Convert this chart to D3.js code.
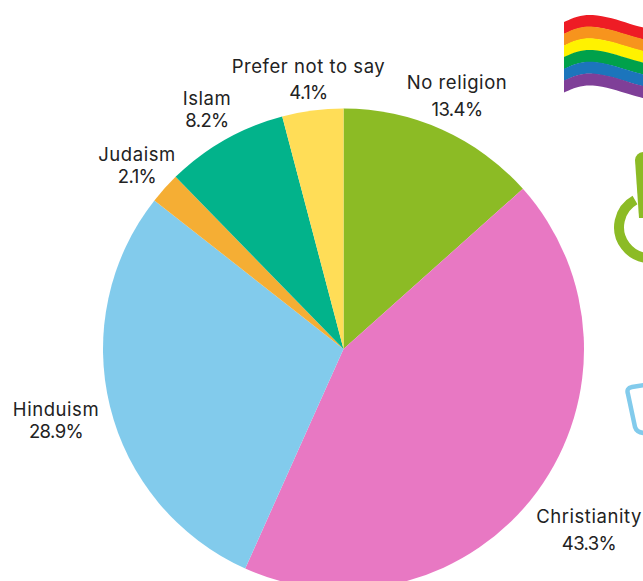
<!DOCTYPE html>
<html><head><meta charset="utf-8">
<script src="https://cdn.jsdelivr.net/npm/d3@7/dist/d3.min.js"></script>
<style>html,body{margin:0;padding:0;background:#fff;overflow:hidden}svg{display:block}</style>
</head><body><svg id="c" width="643" height="581"></svg>
<script>
const categories = ["No religion","Christianity","Hinduism","Judaism","Islam","Prefer not to say"];
const values = [13.4,43.3,28.9,2.1,8.2,4.1];
const colors = ["#8CBB25","#E878C3","#82CBEC","#F5AE34","#02B38B","#FFDD57"];
const labelCentres = [[457,89,116],[589,523,550],[56,416,438],[137,161,183],[207,105,127],[308.5,73,99]];
const flagColors = ["#EE1C25","#F7941D","#FFF200","#00A14B","#1C75BC","#7F3F98"];

const svg = d3.select("#c");
const cx = 343.5, cy = 349, radius = 240.5;
const pie = d3.pie().sort(null).value(d => d)(values);
const arc = d3.arc().innerRadius(0).outerRadius(radius);
svg.append("g").attr("transform",`translate(${cx},${cy})`)
  .selectAll("path").data(pie).join("path")
  .attr("d",arc).attr("fill",(d,i)=>colors[i]);

const font = "Inter, sans-serif";
const g = svg.append("g").attr("font-family",font).attr("font-size",18.5).attr("fill","#222").attr("text-anchor","middle");
categories.forEach((c,i)=>{
  const [x,y1,y2]=labelCentres[i];
  g.append("text").attr("x",x).attr("y",y1).attr("letter-spacing",0.55).text(c);
  g.append("text").attr("x",x).attr("y",y2).attr("letter-spacing",-0.6).text(values[i].toFixed(1)+"%");
});

// decorative flag
const band = 11.7;
const line = d3.line().curve(d3.curveBasis);
flagColors.forEach((col,i)=>{
  const dy = i*band;
  const top=[[564,22+dy],[577,16+dy],[592,14+dy],[612,18+dy],[630,24+dy],[645,28+dy]];
  const bot=top.map(p=>[p[0],p[1]+band+0.4]).reverse();
  svg.append("path").attr("d",line(top)+"L"+line(bot).slice(1)+"Z").attr("fill",col);
});
// decorative power icon
svg.append("path").attr("fill","none").attr("stroke","#8CBB25").attr("stroke-width",10)
  .attr("d","M635,200 A31,31 0 1 0 672,249");
svg.append("path").attr("fill","#8CBB25")
  .attr("d","M635,160 Q636,152 645,152 L645,218 L639,218 Z");
// decorative outline
svg.append("path").attr("fill","none").attr("stroke","#82CBEC").attr("stroke-width",4.5)
  .attr("d","M650,384 L632,387 Q626,388 628,394 L635,427 Q637,433 645,433");
</script></body></html>
